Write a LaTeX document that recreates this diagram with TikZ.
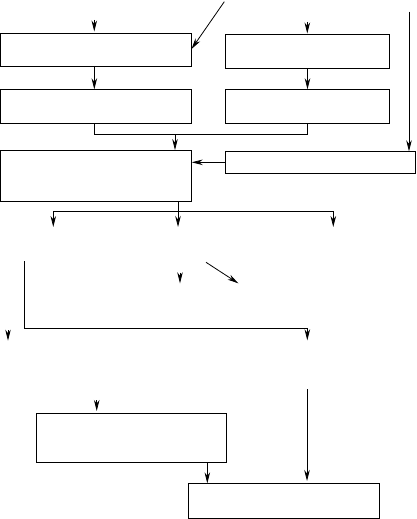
\documentclass[tikz,border=0pt]{standalone}
\usetikzlibrary{arrows.meta}
\begin{document}
\begin{tikzpicture}[x=1pt,y=-1pt,
  box/.style={draw,line width=0.8pt,inner sep=0pt,outer sep=0pt,rectangle},
  conn/.style={line width=0.8pt},
  arr/.style={line width=0.8pt,-{Stealth[length=11pt,width=5.5pt,inset=3.5pt]}}]
\useasboundingbox (0,0) rectangle (416,519);
% boxes
\node[box,minimum width=191pt,minimum height=33pt] (b1) at (96,49.5) {};
\node[box,minimum width=191pt,minimum height=34pt] (b2) at (96,106.3) {};
\node[box,minimum width=164.4pt,minimum height=33.6pt] (b3) at (307.5,51.5) {};
\node[box,minimum width=164.4pt,minimum height=34.4pt] (b4) at (307.5,106.5) {};
\node[box,minimum width=191.2pt,minimum height=51.3pt] (b5) at (96.1,175.7) {};
\node[box,minimum width=190pt,minimum height=22pt] (b6) at (320.3,162.3) {};
\node[box,minimum width=190.4pt,minimum height=48.7pt] (b7) at (131.5,437.7) {};
\node[box,minimum width=191pt,minimum height=34.7pt] (b8) at (283.8,500.7) {};
% coordinates
\coordinate (s1) at (224.3,1.7);
\coordinate (s2) at (409,11.7);
\coordinate (j1) at (175,134);
\coordinate (j2) at (178,211);
\coordinate (d1) at (53.3,211);
\coordinate (d3) at (333.3,211);
\coordinate (l1) at (24.3,261);
\coordinate (l2) at (24.3,328.3);
\coordinate (l3) at (307.3,328.3);
\coordinate (m1) at (206,262.3);
\coordinate (m2) at (238.3,283.3);
\coordinate (v1) at (307,389);
% top inputs
\draw[arr] (94.3,20) -- (94.3,31.5);
\draw[arr] (307.3,22) -- (307.3,33.5);
\draw[arr] (s1) -- (b1.east |- 0,49);
\draw[arr] (b1.south -| 94.3,0) -- (b2.north -| 94.3,0);
\draw[arr] (b3.south) -- (b4.north);
% merge into b5
\draw[conn] (b2.south -| 94.3,0) |- (b4.south |- j1) -- (b4.south);
\draw[arr] (j1) -- (j1 |- b5.north);
\draw[arr] (s2) -- (s2 |- b6.north);
\draw[arr] (b6.west) -- (b5.east |- b6.west);
% distribution
\draw[conn] (j2 |- b5.south) -- (j2);
\draw[conn] (d1) -- (d3);
\draw[arr] (d1) -- ++(0,16);
\draw[arr] (j2) -- ++(0,16);
\draw[arr] (d3) -- ++(0,16);
% middle
\draw[arr] (180,272.5) -- (180,283.3);
\draw[arr] (m1) -- (m2);
\draw[conn] (l1) -- (l2) -- (l3);
\draw[arr] (l3) -- ++(0,12);
\draw[arr] (8,330) -- (8,340.7);
% bottom
\draw[arr] (96.7,400) -- (96.7,411);
\draw[arr] (v1) -- (v1 |- 0,481);
\draw[arr] (b7.south -| 207.3,0) -- (b8.north -| 207.3,0);
\end{tikzpicture}
\end{document}
